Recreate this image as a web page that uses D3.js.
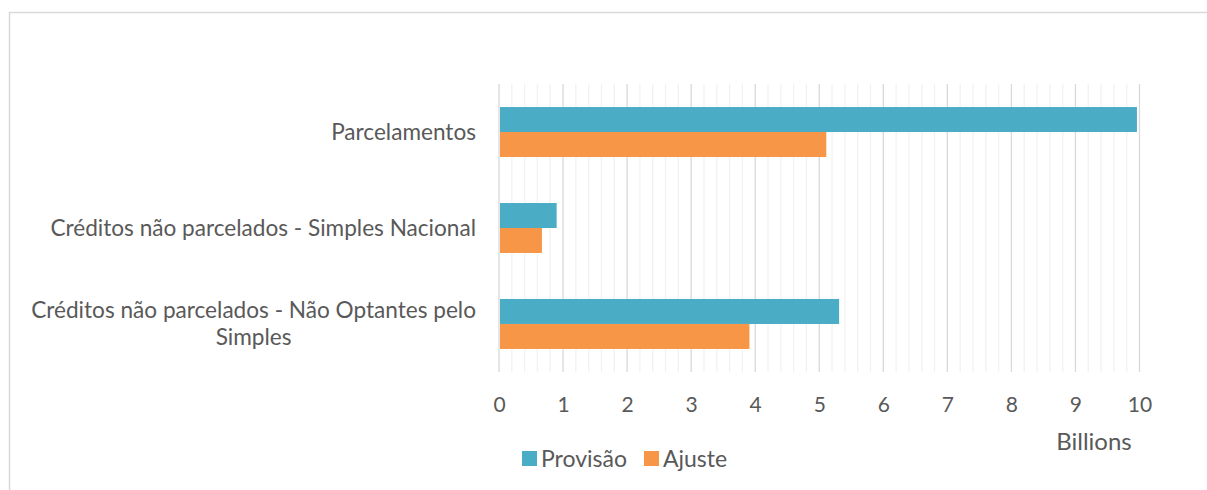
<!DOCTYPE html>
<html>
<head>
<meta charset="utf-8">
<style>
    body { margin: 0; background: #fff; }
    svg { display: block; font-family: Lato, 'Open Sans', sans-serif; }
</style>
</head>
<body>
<svg width="1207" height="490"></svg>
<script src="https://d3js.org/d3.v7.min.js"></script>
<script>
    // chart values
    let categories = ["Parcelamentos", "Créditos não parcelados - Simples Nacional", "Créditos não parcelados - Não Optantes pelo Simples"]
    let categoryLines = [["Parcelamentos"], ["Créditos não parcelados - Simples Nacional"], ["Créditos não parcelados - Não Optantes pelo", "Simples"]]
    let provisao = [9.96, 0.90, 5.31]
    let ajuste = [5.11, 0.67, 3.91]
    let seriesNames = ["Provisão", "Ajuste"]
    let seriesColors = ["#4BACC6", "#F79646"]
    let xTicks = [0, 1, 2, 3, 4, 5, 6, 7, 8, 9, 10]

    let svg = d3.select("svg")
    let textColor = "#595959"

    // outer frame (only top and left edges are visible in the picture)
    svg.append("path")
        .attr("d", "M9.5,490 V12.5 H1207")
        .attr("fill", "none")
        .attr("stroke", "#d9d9d9")
        .attr("stroke-width", 1.5)

    let x = d3.scaleLinear().domain([0, 10]).range([499, 1139.5])
    let y = d3.scaleBand().domain(categories).range([84, 372]).paddingInner(0.479).paddingOuter(0.24)
    let ySub = d3.scaleBand().domain(seriesNames).range([0, y.bandwidth()])

    // minor gridlines
    let minor = d3.range(0, 10.001, 0.2).filter(v => Math.abs(v - Math.round(v)) > 0.01)
    svg.append("g")
        .selectAll("line")
        .data(minor)
        .join("line")
        .attr("x1", d => x(d)).attr("x2", d => x(d))
        .attr("y1", 84).attr("y2", 372)
        .attr("stroke", "#f2f2f2")
        .attr("stroke-width", 1.3)

    // major gridlines
    svg.append("g")
        .selectAll("line")
        .data(xTicks)
        .join("line")
        .attr("x1", d => x(d)).attr("x2", d => x(d))
        .attr("y1", 84).attr("y2", 372)
        .attr("stroke", "#d9d9d9")
        .attr("stroke-width", 1.3)

    // bars
    let rows = categories.map((c, i) => ({ cat: c, vals: [provisao[i], ajuste[i]] }))
    let groups = svg.append("g")
        .selectAll("g")
        .data(rows)
        .join("g")
        .attr("transform", d => `translate(0,${y(d.cat)})`)

    groups.selectAll("rect")
        .data(d => d.vals.map((v, j) => ({ name: seriesNames[j], v: v, color: seriesColors[j] })))
        .join("rect")
        .attr("x", x(0) + 1)
        .attr("y", d => ySub(d.name))
        .attr("width", d => x(d.v) - x(0) - 1)
        .attr("height", ySub.bandwidth())
        .attr("fill", d => d.color)

    // x axis labels
    let xAxis = d3.axisBottom(x).tickValues(xTicks).tickSize(0).tickPadding(0).tickFormat(d3.format("d"))
    let gx = svg.append("g")
        .attr("transform", "translate(0,397)")
        .call(xAxis)
    gx.select(".domain").remove()
    gx.selectAll("text")
        .attr("dy", "0.71em")
        .attr("fill", textColor)
        .style("font-size", "21px")
        .style("font-family", "Lato, 'Open Sans', sans-serif")

    // category labels
    let labels = svg.append("g")
        .selectAll("text")
        .data(categories)
        .join("text")
        .attr("fill", textColor)
        .style("font-size", "22.6px")
        .attr("text-anchor", "middle")

    labels.each(function (d, i) {
        let lines = categoryLines[i]
        let t = d3.select(this)
        let lh = 27
        let cy = y(d) + y.bandwidth() / 2
        let widths = []
        lines.forEach((s, k) => {
            let ts = t.append("tspan")
                .attr("x", 0)
                .attr("y", cy + (k - (lines.length - 1) / 2) * lh)
                .attr("dy", "0.35em")
                .text(s)
            widths.push(ts.node().getComputedTextLength())
        })
        // right align block, lines centred within it
        let w = d3.max(widths)
        t.selectAll("tspan").attr("x", 476 - w / 2)
    })

    // units label
    svg.append("text")
        .attr("x", 1094)
        .attr("y", 442)
        .attr("dy", "0.35em")
        .attr("text-anchor", "middle")
        .attr("fill", textColor)
        .style("font-size", "24px")
        .text("Billions")

    // legend
    let legendX = [522, 644]
    let legend = svg.append("g")
        .selectAll("g")
        .data(seriesNames)
        .join("g")
        .attr("transform", (d, i) => `translate(${legendX[i]},451)`)

    legend.append("rect")
        .attr("width", 15)
        .attr("height", 15)
        .attr("fill", (d, i) => seriesColors[i])

    legend.append("text")
        .attr("x", 19)
        .attr("y", 8)
        .attr("dy", "0.35em")
        .attr("fill", textColor)
        .style("font-size", "23px")
        .text(d => d)
</script>
</body>
</html>
